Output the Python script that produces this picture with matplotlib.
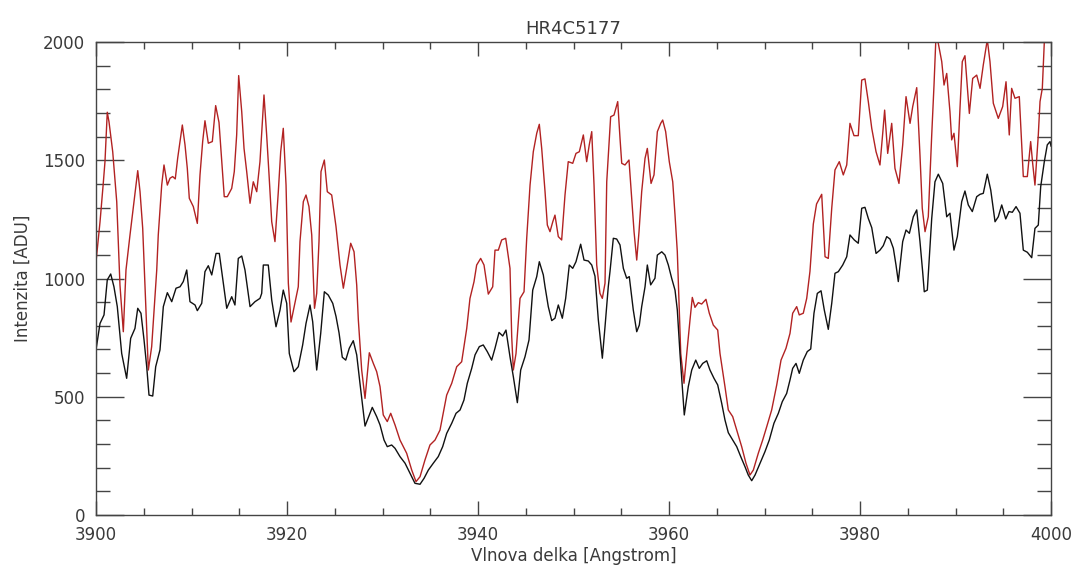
import matplotlib
matplotlib.use("Agg")
import matplotlib.pyplot as plt
from matplotlib.ticker import MultipleLocator

title = "HR4C5177"
xlabel = "Vlnova delka [Angstrom]"
ylabel = "Intenzita [ADU]"

red_wl = [3900.00, 3900.42, 3900.76, 3900.94, 3901.18, 3901.36, 3901.75, 3902.17, 3902.51, 3902.86,
          3903.14, 3903.56, 3903.98, 3904.37, 3904.61, 3904.89, 3905.13, 3905.48, 3905.83, 3906.36,
          3906.52, 3906.88, 3907.12, 3907.47, 3907.75, 3908.03, 3908.30, 3908.55, 3908.80, 3909.04,
          3909.32, 3909.56, 3909.77, 3910.19, 3910.61, 3910.89, 3911.17, 3911.41, 3911.76, 3912.18,
          3912.53, 3912.88, 3913.27, 3913.43, 3913.75, 3914.21, 3914.48, 3914.73, 3914.94, 3915.26,
          3915.50, 3915.78, 3916.13, 3916.47, 3916.83, 3917.17, 3917.59, 3917.87, 3918.12, 3918.40,
          3918.74, 3919.09, 3919.34, 3919.61, 3919.90, 3920.14, 3920.42, 3921.18, 3921.36, 3921.71,
          3921.99, 3922.30, 3922.59, 3922.88, 3923.11, 3923.35, 3923.56, 3923.91, 3924.22, 3924.68,
          3925.13, 3925.55, 3925.90, 3926.25, 3926.67, 3927.02, 3927.30, 3927.47, 3927.82, 3928.17,
          3928.62, 3929.04, 3929.39, 3929.74, 3930.08, 3930.50, 3930.86, 3931.31, 3931.83, 3932.53,
          3933.06, 3933.51, 3933.93, 3934.45, 3934.97, 3935.50, 3936.02, 3936.72, 3937.25, 3937.77,
          3938.29, 3938.82, 3939.16, 3939.58, 3939.86, 3940.28, 3940.63, 3941.08, 3941.54, 3941.78,
          3942.13, 3942.48, 3942.90, 3943.35, 3943.53, 3943.70, 3943.98, 3944.40, 3944.82, 3945.10,
          3945.45, 3945.79, 3946.15, 3946.42, 3946.67, 3947.02, 3947.26, 3947.54, 3947.83, 3948.06,
          3948.41, 3948.76, 3949.11, 3949.45, 3949.92, 3950.26, 3950.61, 3951.03, 3951.38, 3951.65,
          3951.91, 3952.15, 3952.43, 3952.77, 3953.02, 3953.30, 3953.48, 3953.89, 3954.24, 3954.63,
          3954.87, 3955.05, 3955.39, 3955.81, 3956.09, 3956.34, 3956.62, 3956.86, 3957.14, 3957.49,
          3957.73, 3958.12, 3958.43, 3958.78, 3959.13, 3959.34, 3959.65, 3960.03, 3960.39, 3960.63,
          3960.87, 3961.23, 3961.57, 3961.86, 3962.20, 3962.44, 3962.72, 3963.07, 3963.42, 3963.87,
          3964.22, 3964.64, 3965.10, 3965.34, 3965.86, 3966.21, 3966.67, 3967.09, 3967.61, 3968.06,
          3968.48, 3968.83, 3969.35, 3969.81, 3970.23, 3970.75, 3971.28, 3971.73, 3972.25, 3972.67,
          3972.95, 3973.37, 3973.64, 3974.06, 3974.42, 3974.76, 3975.11, 3975.45, 3975.99, 3976.34,
          3976.68, 3977.04, 3977.38, 3977.83, 3978.25, 3978.61, 3978.95, 3979.37, 3979.82, 3980.18,
          3980.52, 3980.87, 3981.23, 3981.68, 3982.09, 3982.38, 3982.58, 3982.90, 3983.32, 3983.66,
          3984.08, 3984.47, 3984.82, 3985.24, 3985.52, 3985.94, 3986.28, 3986.52, 3986.81, 3987.15,
          3987.51, 3987.75, 3987.96, 3988.20, 3988.56, 3988.80, 3989.08, 3989.42, 3989.60, 3989.84,
          3990.19, 3990.47, 3990.71, 3990.99, 3991.17, 3991.45, 3991.80, 3992.22, 3992.57, 3992.91,
          3993.33, 3993.61, 3993.96, 3994.48, 3994.94, 3995.29, 3995.63, 3995.88, 3996.23, 3996.68,
          3997.10, 3997.52, 3997.87, 3998.08, 3998.32, 3998.67, 3998.85, 3999.09, 3999.30, 3999.58,
          4000.00]
red_int = [1070, 1239, 1402, 1494, 1703, 1663, 1536, 1325, 972, 775,
           1036, 1184, 1325, 1456, 1367, 1212, 972, 613, 712, 1036,
           1184, 1395, 1480, 1395, 1424, 1431, 1421, 1508, 1579, 1649,
           1565, 1466, 1339, 1304, 1233, 1438, 1579, 1667, 1572, 1579,
           1731, 1660, 1438, 1346, 1346, 1381, 1452, 1607, 1858, 1705,
           1550, 1452, 1318, 1409, 1367, 1494, 1776, 1607, 1438, 1240,
           1156, 1367, 1536, 1635, 1395, 980, 816, 965, 1156, 1325,
           1353, 1304, 1184, 874, 937, 1156, 1452, 1501, 1367, 1353,
           1220, 1057, 959, 1043, 1149, 1113, 972, 825, 613, 493,
           686, 641, 606, 543, 423, 395, 430, 381, 317, 261,
           190, 141, 162, 233, 296, 317, 359, 507, 557, 627,
           648, 789, 916, 986, 1057, 1085, 1057, 934, 965, 1120,
           1120, 1163, 1170, 1043, 754, 613, 683, 916, 944, 1170,
           1395, 1536, 1614, 1652, 1550, 1367, 1226, 1198, 1240, 1268,
           1177, 1163, 1353, 1494, 1487, 1529, 1536, 1607, 1494, 1565,
           1621, 1395, 1057, 937, 916, 980, 1409, 1684, 1691, 1748,
           1593, 1487, 1480, 1501, 1339, 1198, 1078, 1198, 1367, 1508,
           1550, 1402, 1438, 1621, 1656, 1670, 1621, 1494, 1409, 1268,
           1113, 683, 557, 683, 825, 920, 878, 898, 892, 912,
           853, 803, 782, 683, 543, 444, 416, 359, 289, 219,
           169, 190, 261, 317, 373, 444, 550, 655, 705, 768,
           853, 881, 846, 853, 916, 1030, 1230, 1315, 1356, 1092,
           1085, 1297, 1459, 1494, 1438, 1480, 1656, 1604, 1604, 1839,
           1844, 1748, 1635, 1536, 1480, 1614, 1712, 1529, 1656, 1466,
           1402, 1565, 1769, 1656, 1727, 1807, 1522, 1297, 1198, 1261,
           1607, 1818, 2030, 1994, 1917, 1818, 1867, 1705, 1586, 1614,
           1473, 1720, 1917, 1942, 1846, 1698, 1846, 1860, 1804, 1903,
           2010, 1917, 1741, 1677, 1727, 1832, 1607, 1804, 1762, 1769,
           1431, 1431, 1579, 1487, 1395, 1607, 1748, 1804, 2000, 2150,
           2250]

black_wl = [3900.00, 3900.42, 3900.84, 3901.18, 3901.54, 3901.88, 3902.23, 3902.69, 3903.21, 3903.63,
            3904.08, 3904.37, 3904.71, 3905.03, 3905.31, 3905.55, 3905.94, 3906.25, 3906.70, 3907.05,
            3907.47, 3907.93, 3908.38, 3908.80, 3909.14, 3909.50, 3909.84, 3910.37, 3910.61, 3911.07,
            3911.41, 3911.76, 3912.12, 3912.57, 3912.91, 3913.69, 3914.21, 3914.55, 3914.90, 3915.26,
            3915.60, 3916.13, 3916.65, 3917.17, 3917.35, 3917.52, 3918.04, 3918.40, 3918.85, 3919.27,
            3919.61, 3919.97, 3920.24, 3920.73, 3921.18, 3921.64, 3921.99, 3922.41, 3922.69, 3923.11,
            3923.53, 3923.91, 3924.32, 3924.79, 3925.13, 3925.45, 3925.79, 3926.15, 3926.52, 3926.94,
            3927.30, 3927.64, 3928.17, 3928.59, 3928.93, 3929.39, 3929.74, 3930.16, 3930.50, 3930.96,
            3931.31, 3931.83, 3932.36, 3932.88, 3933.40, 3933.93, 3934.35, 3934.80, 3935.32, 3935.84,
            3936.30, 3936.72, 3937.25, 3937.70, 3938.12, 3938.53, 3938.88, 3939.34, 3939.69, 3940.14,
            3940.55, 3940.97, 3941.43, 3941.78, 3942.20, 3942.59, 3942.93, 3943.35, 3943.70, 3944.12,
            3944.47, 3944.92, 3945.34, 3945.73, 3946.15, 3946.42, 3946.84, 3947.02, 3947.36, 3947.72,
            3948.06, 3948.41, 3948.83, 3949.18, 3949.56, 3949.92, 3950.26, 3950.75, 3951.10, 3951.55,
            3951.91, 3952.25, 3952.60, 3953.02, 3953.30, 3953.64, 3953.82, 3954.17, 3954.52, 3954.87,
            3955.22, 3955.57, 3955.84, 3956.26, 3956.62, 3956.89, 3957.14, 3957.49, 3957.73, 3958.08,
            3958.53, 3958.78, 3959.24, 3959.58, 3959.93, 3960.28, 3960.63, 3960.87, 3961.15, 3961.60,
            3962.02, 3962.38, 3962.80, 3963.17, 3963.53, 3963.95, 3964.29, 3964.71, 3965.10, 3965.52,
            3965.86, 3966.21, 3966.67, 3967.09, 3967.51, 3967.96, 3968.30, 3968.66, 3969.01, 3969.53,
            3970.05, 3970.50, 3970.99, 3971.45, 3971.86, 3972.32, 3972.67, 3972.95, 3973.30, 3973.64,
            3974.06, 3974.48, 3974.84, 3975.18, 3975.53, 3975.92, 3976.26, 3976.68, 3977.04, 3977.38,
            3977.73, 3978.19, 3978.61, 3978.95, 3979.40, 3979.82, 3980.18, 3980.52, 3980.87, 3981.23,
            3981.68, 3982.09, 3982.44, 3982.80, 3983.14, 3983.49, 3983.77, 3984.01, 3984.47, 3984.82,
            3985.17, 3985.58, 3985.94, 3986.28, 3986.56, 3986.73, 3987.05, 3987.51, 3987.85, 3988.20,
            3988.66, 3989.08, 3989.42, 3989.84, 3990.19, 3990.65, 3990.99, 3991.34, 3991.76, 3992.22,
            3992.57, 3992.91, 3993.33, 3993.69, 3994.14, 3994.48, 3994.84, 3995.26, 3995.60, 3995.95,
            3996.34, 3996.75, 3997.10, 3997.52, 3997.98, 3998.32, 3998.67, 3998.92, 3999.30, 3999.61,
            3999.90, 4000.00]
black_int = [698, 810, 846, 994, 1019, 965, 881, 683, 578, 747,
             789, 874, 853, 740, 627, 507, 503, 627, 698, 881,
             940, 902, 959, 965, 987, 1036, 902, 888, 864, 895,
             1029, 1054, 1015, 1106, 1106, 874, 923, 888, 1085, 1095,
             1036, 881, 902, 916, 937, 1057, 1057, 909, 796, 867,
             951, 895, 683, 606, 627, 719, 810, 888, 817, 613,
             768, 944, 930, 895, 840, 770, 667, 655, 705, 737,
             677, 557, 376, 419, 455, 416, 381, 317, 289, 296,
             282, 247, 219, 176, 134, 130, 155, 190, 219, 247,
             289, 345, 388, 430, 444, 486, 557, 620, 677, 712,
             719, 691, 655, 705, 772, 757, 782, 669, 585, 475,
             613, 669, 740, 951, 1008, 1071, 1015, 965, 881, 822,
             832, 888, 832, 916, 1057, 1043, 1071, 1145, 1078, 1074,
             1057, 1010, 825, 663, 796, 965, 1029, 1170, 1167, 1142,
             1043, 1001, 1008, 867, 775, 803, 881, 965, 1057, 973,
             1001, 1099, 1113, 1099, 1057, 1001, 951, 867, 683, 423,
             543, 613, 655, 620, 641, 652, 613, 578, 550, 472,
             402, 348, 317, 289, 247, 204, 169, 145, 169, 219,
             268, 317, 388, 430, 479, 514, 571, 620, 641, 599,
             655, 691, 702, 853, 937, 948, 867, 785, 895, 1022,
             1029, 1057, 1092, 1184, 1163, 1149, 1297, 1301, 1254, 1215,
             1106, 1120, 1139, 1177, 1167, 1128, 1057, 987, 1156, 1205,
             1191, 1261, 1290, 1156, 1029, 944, 951, 1254, 1409, 1441,
             1402, 1261, 1276, 1120, 1177, 1325, 1370, 1311, 1283, 1346,
             1356, 1360, 1441, 1374, 1240, 1261, 1311, 1252, 1283, 1280,
             1304, 1276, 1120, 1111, 1088, 1212, 1226, 1388, 1494, 1565,
             1579, 1560]

W, H = 1078, 567
fig = plt.figure(figsize=(W / 100, H / 100), dpi=100)
ax = fig.add_axes([96 / W, (H - 515) / H, (1051 - 96) / W, (515 - 42) / H])

ax.plot(red_wl, red_int, color="#b22222", lw=1.0)
ax.plot(black_wl, black_int, color="#111111", lw=1.0)

ax.set_xlim(3900, 4000)
ax.set_ylim(0, 2000)
ax.xaxis.set_major_locator(MultipleLocator(20))
ax.xaxis.set_minor_locator(MultipleLocator(5))
ax.yaxis.set_major_locator(MultipleLocator(500))
ax.yaxis.set_minor_locator(MultipleLocator(100))

txt = "#3a3a3a"
ax.tick_params(axis="x", which="major", direction="in", length=10, width=1, top=True, bottom=True,
               color="#444444", labelsize=12, labelcolor=txt, pad=8)
ax.tick_params(axis="x", which="minor", direction="in", length=5, width=1, top=True, bottom=True,
               color="#444444")
ax.tick_params(axis="y", which="major", direction="in", length=20, width=1, left=True, right=True,
               color="#444444", labelsize=12, labelcolor=txt, pad=8)
ax.tick_params(axis="y", which="minor", direction="in", length=10, width=1, left=True, right=True,
               color="#444444")
for s in ax.spines.values():
    s.set_color("#444444")
    s.set_linewidth(1)

ax.set_title(title, fontsize=13, color=txt, pad=6)
ax.set_xlabel(xlabel, fontsize=12, color=txt, labelpad=2)
ax.set_ylabel(ylabel, fontsize=12, color=txt, labelpad=8)

fig.savefig("out.png", dpi=100)
